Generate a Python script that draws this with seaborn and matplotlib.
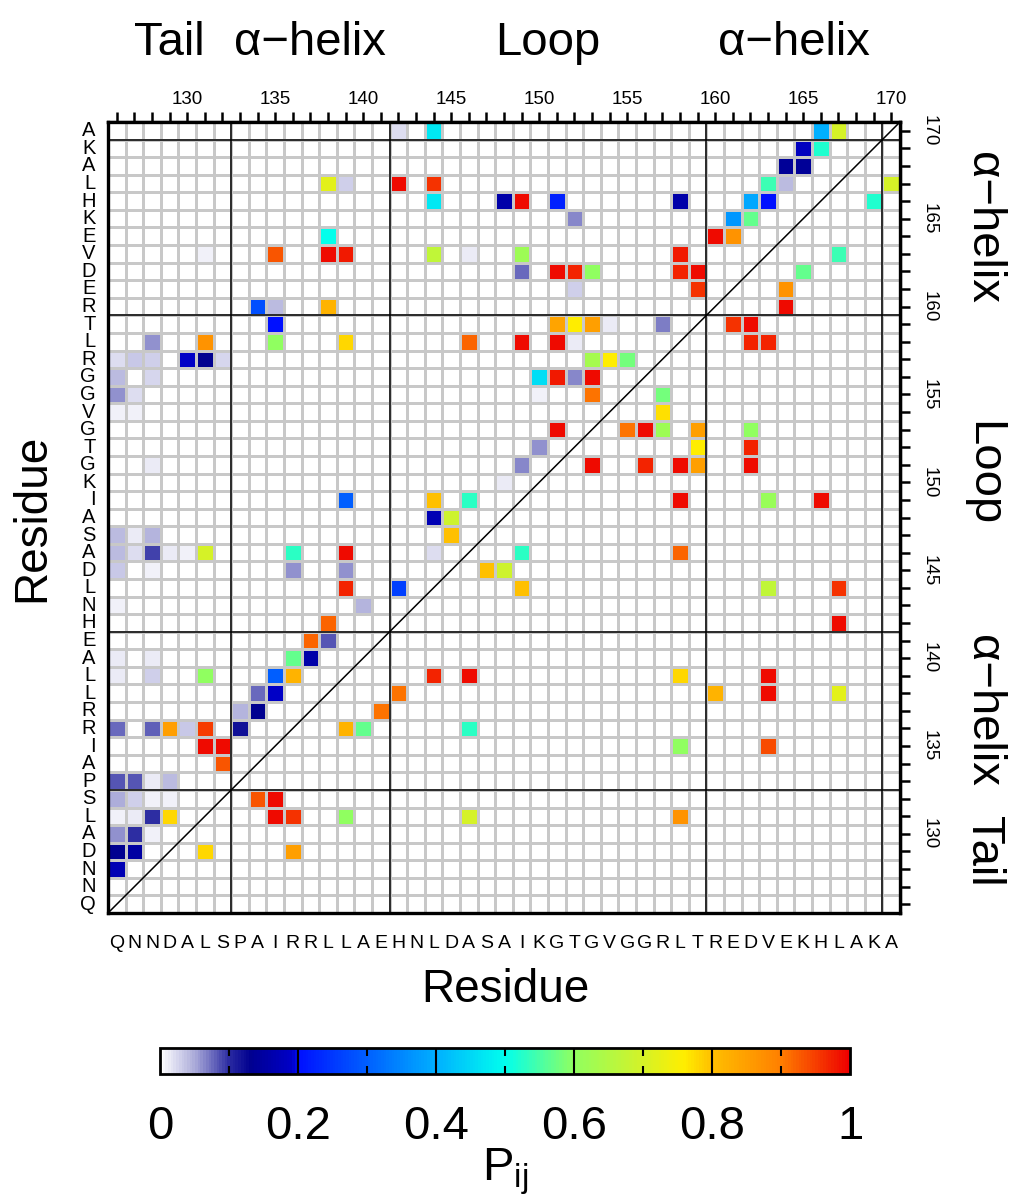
import numpy as np
import pandas as pd
import matplotlib
matplotlib.use("Agg")
import matplotlib.pyplot as plt
import seaborn as sns
from matplotlib.colors import LinearSegmentedColormap

# ---------------- data ----------------
sequence = list("QNNDALSPAIRRLLAEHNLDASAIKGTGVGGRLTREDVEKHLAKA")
first_res = 126
residues = list(range(first_res, first_res + len(sequence)))
last_res = residues[-1]

seg_names = ["Tail", "α−helix", "Loop", "α−helix"]
seg_start = [126, 133, 142, 160]
seg_end = [132, 141, 159, 169]
boundaries = [133, 142, 160, 170]

number_step = 5
cbar_ticks = [0, 0.2, 0.4, 0.6, 0.8, 1]
cbar_ticklabels = ["0", "0.2", "0.4", "0.6", "0.8", "1"]

# contacts: column residue (x), row residue (y), probability
contact_x = [
    142, 144, 166, 167,
    165, 166,
    164, 165,
    138, 139, 142, 144, 163, 164, 170,
    144, 148, 149, 151, 158, 162, 163, 169,
    152, 161, 162,
    138, 160, 161,
    131, 135, 138, 139, 144, 146, 149, 158, 167,
    149, 151, 152, 153, 158, 159, 165,
    152, 159, 164,
    134, 135, 138, 164,
    135, 151, 152, 153, 154, 157, 161, 162,
    128, 131, 135, 139, 146, 149, 151, 152, 162, 163,
    126, 127, 128, 130, 131, 132, 153, 154, 155,
    126, 128, 150, 151, 152, 153,
    126, 127, 150, 153, 157,
    126, 127, 157,
    151, 155, 156, 157, 159, 162,
    150, 159, 162,
    128, 149, 153, 156, 158, 159, 162,
    148,
    139, 144, 146, 158, 163, 166,
    144, 145,
    126, 127, 128, 145,
    126, 127, 128, 129, 130, 131, 136, 139, 144, 149, 158,
    126, 128, 136, 139, 147, 148,
    139, 142, 149, 163, 167,
    126, 140,
    138, 167,
    137, 138,
    126, 128, 136, 137,
    126, 128, 131, 135, 136, 144, 146, 158, 163,
    134, 135, 142, 160, 163, 167,
    133, 134, 141,
    126, 128, 129, 130, 131, 133, 139, 140, 146,
    131, 132, 158, 163,
    132,
    126, 127, 128, 129,
    126, 127, 128, 129, 134, 135,
    126, 127, 128, 129, 135, 136, 139, 146, 158,
    126, 127, 128,
    126, 127, 131, 136,
    126,
]
contact_y = (
    [170] * 4 + [169] * 2 + [168] * 2 + [167] * 7 + [166] * 8 + [165] * 3
    + [164] * 3 + [163] * 9 + [162] * 7 + [161] * 3 + [160] * 4 + [159] * 8
    + [158] * 10 + [157] * 9 + [156] * 6 + [155] * 5 + [154] * 3 + [153] * 6
    + [152] * 3 + [151] * 7 + [150] * 1 + [149] * 6 + [148] * 2 + [147] * 4
    + [146] * 11 + [145] * 6 + [144] * 5 + [143] * 2 + [142] * 2 + [141] * 2
    + [140] * 4 + [139] * 9 + [138] * 6 + [137] * 3 + [136] * 9 + [135] * 4
    + [134] * 1 + [133] * 4 + [132] * 6 + [131] * 9 + [130] * 3 + [129] * 4
    + [128] * 1
)
contact_p = [
    0.02, 0.47, 0.40, 0.70,
    0.18, 0.52,
    0.14, 0.14,
    0.72, 0.03, 0.99, 0.96, 0.54, 0.04, 0.70,
    0.47, 0.16, 0.99, 0.22, 0.16, 0.39, 0.20, 0.52,
    0.065, 0.37, 0.57,
    0.50, 0.99, 0.87,
    0.01, 0.93, 0.99, 0.98, 0.67, 0.015, 0.62, 0.98, 0.54,
    0.075, 0.99, 0.97, 0.60, 0.97, 0.99, 0.57,
    0.028, 0.96, 0.87,
    0.28, 0.04, 0.82, 0.99,
    0.20, 0.84, 0.76, 0.85, 0.015, 0.07, 0.96, 0.99,
    0.06, 0.87, 0.60, 0.78, 0.92, 0.99, 0.99, 0.015, 0.97, 0.97,
    0.02, 0.035, 0.03, 0.19, 0.13, 0.025, 0.63, 0.76, 0.58,
    0.04, 0.025, 0.46, 0.98, 0.065, 0.99,
    0.06, 0.02, 0.01, 0.91, 0.58,
    0.01, 0.01, 0.77,
    0.99, 0.91, 0.99, 0.62, 0.85, 0.60,
    0.06, 0.76, 0.97,
    0.015, 0.065, 0.99, 0.97, 0.99, 0.85, 0.99,
    0.015,
    0.30, 0.80, 0.53, 0.99, 0.61, 0.99,
    0.17, 0.69,
    0.04, 0.015, 0.045, 0.80,
    0.04, 0.02, 0.09, 0.015, 0.01, 0.70, 0.53, 0.99, 0.02, 0.53, 0.92,
    0.035, 0.01, 0.06, 0.06, 0.80, 0.69,
    0.97, 0.26, 0.80, 0.67, 0.96,
    0.01, 0.045,
    0.92, 0.99,
    0.92, 0.085,
    0.015, 0.015, 0.57, 0.16,
    0.015, 0.03, 0.60, 0.30, 0.82, 0.97, 0.99, 0.78, 0.99,
    0.075, 0.19, 0.91, 0.82, 0.99, 0.72,
    0.045, 0.13, 0.91,
    0.075, 0.08, 0.85, 0.035, 0.95, 0.12, 0.82, 0.57, 0.53,
    0.99, 0.99, 0.60, 0.94,
    0.93,
    0.085, 0.085, 0.015, 0.04,
    0.05, 0.028, 0.01, 0.01, 0.93, 0.99,
    0.01, 0.015, 0.10, 0.78, 0.99, 0.96, 0.60, 0.70, 0.87,
    0.06, 0.10, 0.01,
    0.13, 0.15, 0.78, 0.85,
    0.17,
]

# ---------------- build matrix ----------------
n = len(residues)
matrix = pd.DataFrame(0.0, index=residues[::-1], columns=residues)
for xr, yr, p in zip(contact_x, contact_y, contact_p):
    matrix.loc[yr, xr] = p

cmap = LinearSegmentedColormap.from_list("pij", [
    (0.00, "#ffffff"), (0.05, "#a8a8d8"), (0.10, "#2828a0"), (0.13, "#000090"),
    (0.19, "#0000c8"), (0.20, "#0010ff"), (0.30, "#0060ff"), (0.40, "#00b0ff"),
    (0.50, "#00ffee"), (0.60, "#90ff60"), (0.70, "#d4f228"), (0.76, "#ffee00"),
    (0.80, "#ffc000"), (0.90, "#ff8000"), (1.00, "#ee0000"),
])

sns.set_style("white")
plt.rcParams["font.family"] = ["Liberation Sans", "DejaVu Sans"]
plt.rcParams["mathtext.fontset"] = "custom"
plt.rcParams["mathtext.rm"] = "Liberation Sans"
plt.rcParams["mathtext.it"] = "Liberation Sans"
for key in ["text.color", "axes.labelcolor", "xtick.color", "ytick.color"]:
    plt.rcParams[key] = "black"

W, H = 1013, 1201
fig = plt.figure(figsize=(W / 100, H / 100), dpi=100)
ax = fig.add_axes([108 / W, 1 - 913 / H, 792 / W, 791 / H])
cax = fig.add_axes([160 / W, 1 - 1074 / H, 690 / W, 26 / H])

sns.heatmap(matrix, ax=ax, cbar_ax=cax, cmap=cmap, vmin=0, vmax=1,
            linewidths=0.8, linecolor="#c8c8c8",
            cbar_kws={"orientation": "horizontal"})

# spines
for s in ax.spines.values():
    s.set_visible(True)
    s.set_linewidth(2.4)
    s.set_color("black")

centers = np.arange(n) + 0.5
ax.set_xticks(centers)
ax.set_xticklabels(sequence, rotation=0, fontsize=14)
ax.set_yticks(centers)
ax.set_yticklabels(sequence[::-1], rotation=0, fontsize=14.5)
ax.tick_params(axis="x", direction="out", length=7, width=1.8,
               color="black", labelcolor="black", pad=9)
ax.tick_params(axis="y", direction="out", length=7, width=1.8,
               color="black", labelcolor="black", pad=2)
ax.set_xlabel("")
ax.set_ylabel("")

secx = ax.secondary_xaxis("top")
secx.set_xticks(centers)
secx.set_xticklabels([str(r) if r % number_step == 0 else "" for r in residues],
                     fontsize=13.5)
secx.tick_params(direction="out", length=7, width=1.8, pad=3,
                 color="black", labelcolor="black")
secx.spines["top"].set_linewidth(2.4)

secy = ax.secondary_yaxis("right")
secy.set_yticks(centers)
secy.set_yticklabels([str(r) if r % number_step == 0 else "" for r in residues[::-1]],
                     fontsize=13.5, rotation=-90, va="center")
secy.tick_params(direction="out", length=7, width=1.8, pad=8,
                 color="black", labelcolor="black")
secy.spines["right"].set_linewidth(2.4)

# segment boundary lines and diagonal
for b in boundaries:
    ax.axvline(b - first_res, color="black", lw=1.1)
    ax.axhline(last_res + 1 - b, color="black", lw=1.1)
ax.plot([0, n], [n, 0], color="black", lw=1.1)

# segment labels
for name, s, e in zip(seg_names, seg_start, seg_end):
    xc = (s + e) / 2 - first_res + 0.5
    ax.text(xc, 1.085, name, transform=ax.get_xaxis_transform(),
            ha="center", va="baseline", fontsize=34, color="black")
    yc = last_res - (s + e) / 2 + 0.5
    ax.text(1.105, yc, name, transform=ax.get_yaxis_transform(),
            ha="center", va="center", rotation=-90, fontsize=34, color="black")

fig.text(505 / W, 1 - 990 / H, "Residue", ha="center", va="center",
         fontsize=33, color="black")
fig.text(32 / W, 1 - 518 / H, "Residue", ha="center", va="center",
         rotation=90, fontsize=33, color="black")

# colorbar styling
cbar = ax.collections[0].colorbar
cbar.outline.set_visible(True)
cbar.outline.set_linewidth(2.0)
cbar.outline.set_edgecolor("black")
cbar.set_ticks(cbar_ticks)
cbar.set_ticklabels(cbar_ticklabels)
cax.tick_params(length=0, labelsize=34, pad=22, labelcolor="black")
tr = cax.get_xaxis_transform()
for t in cbar_ticks[1:-1]:
    cax.vlines(t, 0, 1, transform=tr, color="black", lw=1.5)
for t in np.array(cbar_ticks[:-1]) + 0.1:
    cax.vlines(t, 0, 0.3, transform=tr, color="black", lw=1.5)
    cax.vlines(t, 0.7, 1, transform=tr, color="black", lw=1.5)

fig.text(505 / W, 1 - 1172 / H, r"$\mathregular{P_{ij}}$", ha="center",
         va="center", fontsize=34, color="black")

fig.savefig("out.png", dpi=100)
